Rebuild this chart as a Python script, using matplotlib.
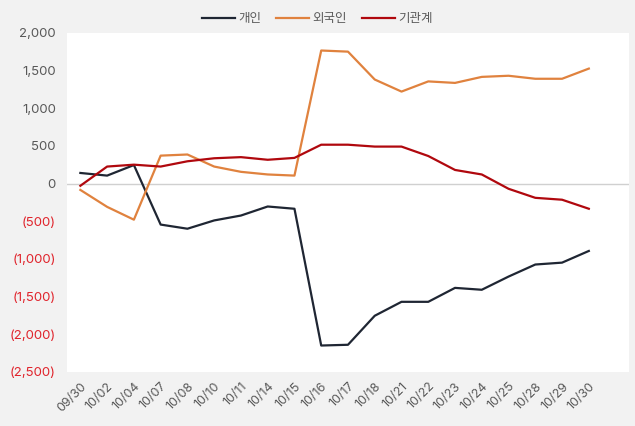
import matplotlib
matplotlib.use("Agg")
import matplotlib.pyplot as plt
from matplotlib.ticker import FuncFormatter

plt.rcParams['font.family'] = ['Inter', 'Noto Sans CJK KR', 'DejaVu Sans']

dates = ['09/30', '10/02', '10/04', '10/07', '10/08', '10/10', '10/11', '10/14', '10/15', '10/16',
         '10/17', '10/18', '10/21', '10/22', '10/23', '10/24', '10/25', '10/28', '10/29', '10/30']

# 순매수 (개인 / 외국인 / 기관계)
individual = [140, 105, 245, -545, -600, -490, -425, -305, -335, -2150,
              -2140, -1755, -1570, -1570, -1385, -1410, -1235, -1075, -1050, -895]
foreign = [-85, -310, -480, 370, 385, 225, 155, 120, 105, 1765,
           1750, 1380, 1220, 1355, 1335, 1415, 1430, 1390, 1390, 1525]
institution = [-30, 225, 250, 225, 295, 335, 350, 315, 340, 515,
               515, 490, 490, 365, 180, 120, -70, -190, -215, -335]

yticks = [2000, 1500, 1000, 500, 0, -500, -1000, -1500, -2000, -2500]

fig = plt.figure(figsize=(6.35, 4.26), dpi=100, facecolor='#f2f2f2')
ax = fig.add_axes([0.1055, 0.127, 0.885, 0.796])
ax.set_facecolor('white')

x = range(len(dates))
ax.plot(x, individual, color='#1f2633', lw=1.6, label='개인')
ax.plot(x, foreign, color='#e0823e', lw=1.6, label='외국인')
ax.plot(x, institution, color='#b0080e', lw=1.6, label='기관계')
ax.axhline(0, color='#d0d0d0', lw=1, zorder=0)

# 오른쪽에 빈 칸 하나
ax.set_xlim(-0.5, len(dates) + 0.5)
ax.set_ylim(-2500, 2000)
ax.set_xticks(list(x))
ax.set_xticklabels(dates, rotation=45, ha='right', rotation_mode='anchor',
                   fontsize=9, color='#595959')
ax.set_yticks(yticks)

def fmt(v, pos):
    if v < 0:
        return '({:,.0f})'.format(-v)
    return '{:,.0f}'.format(v)

ax.yaxis.set_major_formatter(FuncFormatter(fmt))
for lbl, v in zip(ax.get_yticklabels(), yticks):
    lbl.set_fontsize(9.5)
    lbl.set_color('#e0242c' if v < 0 else '#595959')

ax.tick_params(length=0, pad=8)
ax.tick_params(axis='x', pad=6)
for s in ax.spines.values():
    s.set_visible(False)

fig.legend(loc='center', bbox_to_anchor=(0.5, 0.955), ncol=3, frameon=False,
           fontsize=9, handlelength=2.6, columnspacing=1.2, handletextpad=0.3,
           labelcolor='#595959')

fig.savefig('out.png', dpi=100, facecolor=fig.get_facecolor())
